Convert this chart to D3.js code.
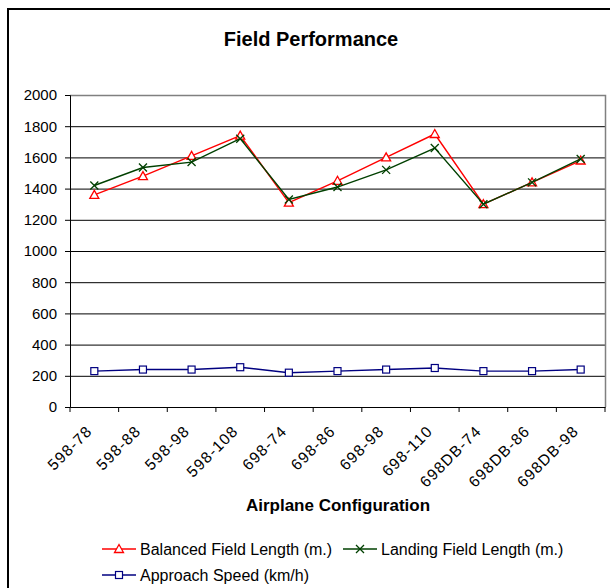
<!DOCTYPE html>
<html>
<head>
<meta charset="utf-8">
<script src="https://cdn.jsdelivr.net/npm/d3@7.9.0/dist/d3.min.js"></script>
<style>
  body { margin: 0; background: #fff; }
  svg { display: block; font-family: "Liberation Sans", Arial, sans-serif; }
</style>
</head>
<body>
<svg id="chart" width="610" height="588"></svg>
<script>
const configs = ["598-78", "598-88", "598-98", "598-108", "698-74", "698-86",
                 "698-98", "698-110", "698DB-74", "698DB-86", "698DB-98"];
const balancedField = [1360, 1480, 1610, 1740, 1310, 1450, 1600, 1750, 1300, 1440, 1580];
const landingField  = [1420, 1535, 1570, 1720, 1330, 1410, 1520, 1660, 1300, 1440, 1590];
const approachSpeed = [230, 240, 240, 255, 220, 230, 240, 250, 230, 230, 240];
const yTicks = [0, 200, 400, 600, 800, 1000, 1200, 1400, 1600, 1800, 2000];

const series = [
  {name: "Balanced Field Length (m.)", values: balancedField, color: "#ff0000", marker: "tri"},
  {name: "Landing Field Length (m.)",  values: landingField,  color: "#004000", marker: "x"},
  {name: "Approach Speed (km/h)",      values: approachSpeed, color: "#000080", marker: "sq"}
];

const svg = d3.select("#chart");
const plot = {left: 70, right: 605, top: 95, bottom: 407};

// outer chart border (runs off the right/bottom edge like the source)
svg.append("rect")
  .attr("x", 8).attr("y", 9).attr("width", 640).attr("height", 620)
  .attr("fill", "none").attr("stroke", "#000").attr("stroke-width", 2);

svg.append("text")
  .attr("x", 311).attr("y", 46)
  .attr("text-anchor", "middle")
  .attr("font-size", 20).attr("font-weight", "bold")
  .text("Field Performance");

const x = d3.scaleBand().domain(configs).range([plot.left, plot.right]);
const y = d3.scaleLinear().domain([0, 2000]).range([plot.bottom, plot.top]);

// gridlines
svg.append("g").selectAll("line")
  .data(yTicks.filter(d => d > 0 && d < 2000)).join("line")
  .attr("x1", plot.left).attr("x2", plot.right)
  .attr("y1", d => y(d) + 0.5).attr("y2", d => y(d) + 0.5)
  .attr("stroke", "#000").attr("stroke-width", 1);

// plot area frame: top/right gray
svg.append("path")
  .attr("d", `M${plot.left},${plot.top + 0.5}H${plot.right + 0.5}V${plot.bottom}`)
  .attr("fill", "none").attr("stroke", "#808080").attr("stroke-width", 1.5);

// y axis
const yAxis = svg.append("g")
  .attr("transform", `translate(${plot.left},0)`)
  .call(d3.axisLeft(y).tickValues(yTicks).tickSize(5).tickPadding(8).tickFormat(d3.format("d")));
yAxis.select(".domain").attr("stroke", "#000");
yAxis.selectAll("text").attr("font-size", 15).attr("fill", "#000")
  .attr("font-family", "'Liberation Sans', Arial, sans-serif");

// x axis
const xAxis = svg.append("g")
  .attr("transform", `translate(0,${plot.bottom})`)
  .call(d3.axisBottom(x).tickSize(0).tickSizeOuter(0));
xAxis.select(".domain").attr("stroke", "#000");
xAxis.selectAll(".tick line").remove();
// category boundary ticks
xAxis.selectAll("line.bound")
  .data(d3.range(configs.length + 1)).join("line")
  .attr("class", "bound")
  .attr("x1", i => plot.left + i * x.step()).attr("x2", i => plot.left + i * x.step())
  .attr("y1", 0).attr("y2", 5).attr("stroke", "#000");
xAxis.selectAll(".tick text")
  .attr("font-size", 15.5).attr("fill", "#000")
  .attr("font-family", "'Liberation Sans', Arial, sans-serif")
  .attr("letter-spacing", 1.2)
  .attr("text-anchor", "end")
  .attr("y", 0).attr("dy", null)
  .attr("transform", "translate(-1,25) rotate(-45)");

svg.append("text")
  .attr("x", 338).attr("y", 511)
  .attr("text-anchor", "middle")
  .attr("font-size", 17).attr("font-weight", "bold")
  .text("Airplane Configuration");

function drawMarker(g, type, color) {
  if (type === "tri") {
    g.append("path").attr("d", "M0,-4.5L4.5,3.5L-4.5,3.5Z")
      .attr("fill", "#fff").attr("stroke", color).attr("stroke-width", 1.3);
  } else if (type === "x") {
    g.append("path").attr("d", "M-4,-4L4,4M-4,4L4,-4")
      .attr("stroke", color).attr("stroke-width", 1.3);
  } else {
    g.append("rect").attr("x", -3.5).attr("y", -3.5).attr("width", 7).attr("height", 7)
      .attr("fill", "#fff").attr("stroke", color).attr("stroke-width", 1.2);
  }
}

const line = d3.line()
  .x((d, i) => x(configs[i]) + x.bandwidth() / 2)
  .y(d => y(d));

series.forEach(s => {
  svg.append("path")
    .attr("d", line(s.values))
    .attr("fill", "none").attr("stroke", s.color).attr("stroke-width", 1.4);
  s.values.forEach((v, i) => {
    const g = svg.append("g")
      .attr("transform", `translate(${x(configs[i]) + x.bandwidth() / 2},${y(v)})`);
    drawMarker(g, s.marker, s.color);
  });
});

// legend
const legendPos = [{x: 102, y: 549}, {x: 343, y: 549}, {x: 102, y: 575}];
series.forEach((s, i) => {
  const p = legendPos[i];
  const g = svg.append("g").attr("transform", `translate(${p.x},${p.y})`);
  g.append("line").attr("x1", 0).attr("x2", 34).attr("y1", 0).attr("y2", 0)
    .attr("stroke", s.color).attr("stroke-width", 1.3);
  const m = g.append("g").attr("transform", "translate(17,0)");
  drawMarker(m, s.marker, s.color);
  g.append("text").attr("x", 38).attr("y", 5.5)
    .attr("font-size", 16).text(s.name);
});
</script>
</body>
</html>
